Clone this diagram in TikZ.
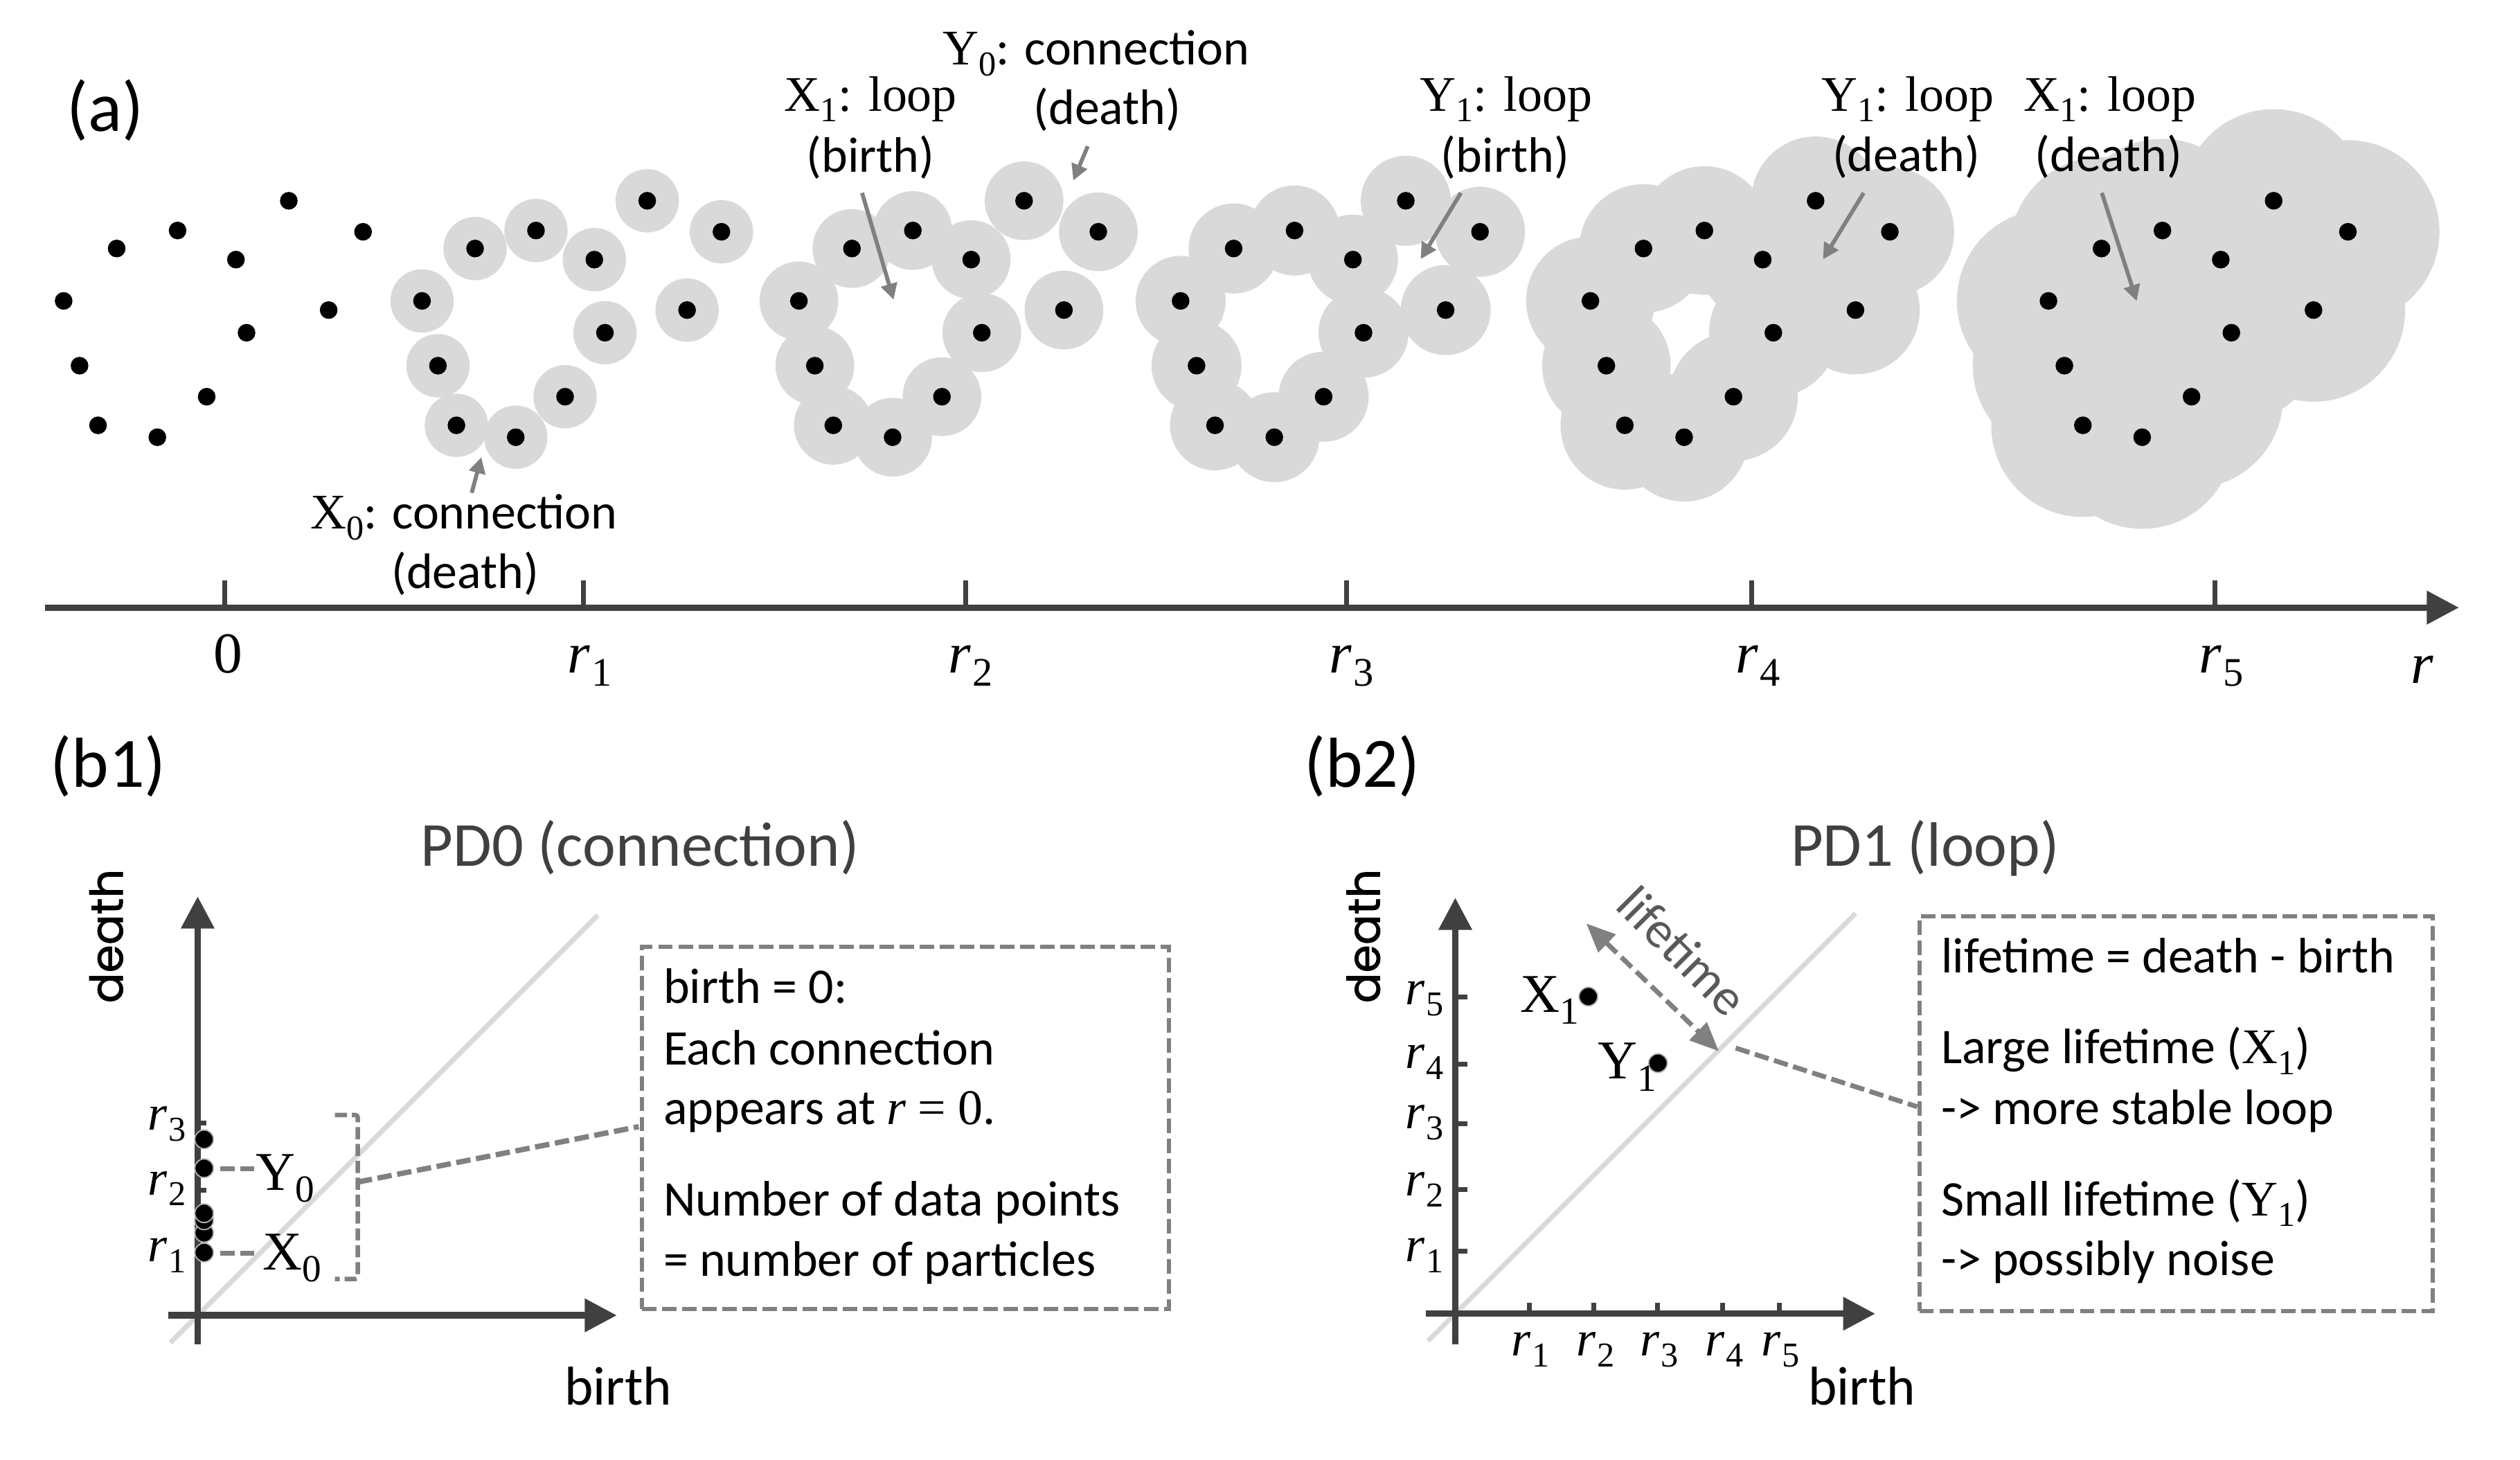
\documentclass[tikz,border=0pt]{standalone}
\usepackage{fontspec}
\setmainfont{Carlito}
\newfontfamily\deathfont{Poppins}[FakeBold=1.2]
\newfontfamily\mr{Liberation Serif}
\usetikzlibrary{arrows.meta}
\makeatletter
\newcommand\sbs[1]{\raisebox{-0.22em}{\fontsize{\fpeval{0.7*\f@size}}{1}\selectfont #1}}
\makeatother
\newcommand\XX[1]{{\mr X\sbs{#1}}}
\newcommand\YY[1]{{\mr Y\sbs{#1}}}
\newcommand\rr[1]{{\mr\itshape r\kern0.03em\sbs{\upshape #1}}}
\definecolor{axisgray}{HTML}{404040}
\definecolor{diskgray}{HTML}{D9D9D9}
\definecolor{annogray}{HTML}{808080}
\definecolor{ltgray}{HTML}{595959}
\def\pts{39.6/187.2,72.6/154.6,110.5/143.4,179.7/124.9,146.8/161.5,225.9/144.2,204.5/192.9,153.4/207.0,49.5/227.5,128.6/246.8,61.0/264.6,97.9/272.0}
\tikzset{
  axisline/.style={draw=axisgray, line width=4pt, -{Triangle[length=20pt,width=20pt]}},
  tickline/.style={draw=axisgray, line width=3pt},
  annoarrow/.style={draw=annogray, line width=2.5pt, -{Triangle[length=10pt,width=10pt]}},
  gdash/.style={draw=annogray, line width=3pt, dash pattern=on 9pt off 3.5pt},
  boxdash/.style={draw=annogray, line width=2.6pt, dash pattern=on 9pt off 3.5pt, inner sep=0pt},
  diag/.style={draw=diskgray, line width=3pt},
  ann/.style={font=\fontsize{31}{37}\selectfont, anchor=base, inner sep=0pt},
  boxtxt/.style={font=\fontsize{31}{37}\selectfont, anchor=base west, inner sep=0pt},
  mlab/.style={font=\fontsize{36}{40}\selectfont, anchor=base, inner sep=0pt},
  axlab/.style={font=\fontsize{31}{37}\selectfont, anchor=base, inner sep=0pt},
  plab/.style={font=\fontsize{34}{40}\selectfont, anchor=base, inner sep=0pt},
  panel/.style={font=\fontsize{44}{50}\selectfont, anchor=base, inner sep=0pt},
  ptitle/.style={font=\fontsize{39}{45}\selectfont, text=axisgray, anchor=base, inner sep=0pt},
  axname/.style={font=\fontsize{34}{40}\selectfont, anchor=base, inner sep=0pt},
  deathlab/.style={font=\deathfont\fontsize{28}{34}\selectfont, rotate=90, inner sep=0pt},
  pdot/.style={fill=black, draw=gray!60, line width=0.8pt},
}
\begin{document}
\begin{tikzpicture}[x=1pt,y=-1pt]
\useasboundingbox (0,0) rectangle (1568,908);

% ---------- panel (a): disks and points ----------
\foreach \s/\r in {223/19.7,457.5/24.5,695/28,950/40,1235/57}
  \foreach \px/\py in \pts
    \fill[diskgray] (\px+\s,\py) circle[radius=\r pt];
\foreach \s in {0,223,457.5,695,950,1235}
  \foreach \px/\py in \pts
    \fill[black] (\px+\s,\py) circle[radius=5.5pt];

\node[panel] (la) at (65.6,81.6) {(a)};

% annotations
\node[ann] (aA1) at (288.6,329) {\XX{0}: connection};
\node[ann] (aA2) at (289.5,366) {(death)};
\node[ann] (aB1) at (541.8,69) {\XX{1}{\mr: loop}};
\node[ann] (aB2) at (541.7,107) {(birth)};
\node[ann] (aC1) at (682,40.2) {\YY{0}: connection};
\node[ann] (aC2) at (689,77.3) {(death)};
\node[ann] (aD1) at (937.3,69) {\YY{1}{\mr: loop}};
\node[ann] (aD2) at (936.5,107) {(birth)};
\node[ann] (aE1) at (1187,69) {\YY{1}{\mr: loop}};
\node[ann] (aE2) at (1186,106.6) {(death)};
\node[ann] (aF1) at (1313,69) {\XX{1}{\mr: loop}};
\node[ann] (aF2) at (1312,106.6) {(death)};

\coordinate (pAs) at (293.5,306.6); \coordinate (pAe) at (299.5,284.4);
\coordinate (pBs) at (536.4,120);   \coordinate (pBe) at (556,186.5);
\coordinate (pCs) at (676.8,91);    \coordinate (pCe) at (667.8,112.3);
\coordinate (pDs) at (909,120);     \coordinate (pDe) at (884,161.2);
\coordinate (pEs) at (1159.6,120);  \coordinate (pEe) at (1134.3,161.4);
\coordinate (pFs) at (1307.8,120);  \coordinate (pFe) at (1329.5,187.3);
\foreach \k in {A,B,C,D,E,F} \draw[annoarrow] (p\k s) -- (p\k e);

% timeline
\coordinate (tlA) at (28,378);
\coordinate (tlB) at (1530,378);
\draw[axisline] (tlA) -- (tlB);
\foreach \x in {140,363,601,838,1090,1378} \draw[tickline] (\x,361) -- (\x,378);
\node[mlab] (t0) at (142,418.7) {\mr 0};
\node[mlab] (t1) at (367,418.7) {\rr{1}};
\node[mlab] (t2) at (604,418.7) {\rr{2}};
\node[mlab] (t3) at (841,418.7) {\rr{3}};
\node[mlab] (t4) at (1094,418.7) {\rr{4}};
\node[mlab] (t5) at (1382,418.7) {\rr{5}};
\node[mlab] (tr) at (1507,425) {\mr\itshape r};

% ---------- panel (b1) ----------
\node[panel] (lb1) at (67.3,489.6) {(b1)};
\node[ptitle] (pd0) at (398.2,539) {PD0 (connection)};
\node[deathlab] (db1) at (66.1,582.4) {death};
\node[axname] (bb1) at (384.7,874) {birth};

\draw[diag] (106,835.3) -- (372,569.3);
\draw[axisline] (123,836.2) -- (123,557.7);
\draw[axisline] (104.8,818.3) -- (383.8,818.3);
\foreach \y in {698.7,740.4,780} \draw[tickline] (123,\y) -- (128.5,\y);
\node[axlab] (b1r3) at (103.9,703.1) {\rr{3}};
\node[axlab] (b1r2) at (103.9,743.3) {\rr{2}};
\node[axlab] (b1r1) at (103.9,784.9) {\rr{1}};
\foreach \y in {779.2,767,759.2,754.8,726.8,708.8} \draw[pdot] (127,\y) circle[radius=5.8pt];

\node[plab] (y0) at (177.6,740.4) {\YY{0}};
\node[plab] (x0) at (181.8,790) {\XX{0}};
\coordinate (cy0a) at (137,727); \coordinate (cy0b) at (158,727);
\coordinate (cx0a) at (137,779.5); \coordinate (cx0b) at (158,779.5);
\draw[gdash] (cy0a) -- (cy0b);
\draw[gdash] (cx0a) -- (cx0b);
\coordinate (brA) at (208.4,693.7); \coordinate (brB) at (222.6,693.7);
\coordinate (brC) at (222.6,795.7); \coordinate (brD) at (208.4,795.7);
\coordinate (brM) at (222.6,735.4);
\draw[gdash, line width=2.8pt, dash pattern=on 7.5pt off 3pt, rounded corners=1.5pt] (brA) -- (brB) -- (brC) -- (brD);

\node[boxdash, anchor=north west, minimum width=328pt, minimum height=225.6pt] (box1) at (398.2,587.6) {};
\coordinate (box1in) at (397.4,700.9);
\draw[gdash, line width=3.3pt] (brM) -- (box1in);
\node[boxtxt] (t11) at (412.6,624) {birth = 0:};
\node[boxtxt] (t12) at (412.6,662.3) {Each connection};
\node[boxtxt] (t13) at (412.6,699.5) {appears at {\mr\itshape r} {\mr = 0}.};
\node[boxtxt] (t14) at (412.6,756.2) {Number of data points};
\node[boxtxt] (t15) at (412.6,794) {= number of particles};

% ---------- panel (b2) ----------
\node[panel] (lb2) at (847.5,489.6) {(b2)};
\node[ptitle] (pd1) at (1197.8,539) {PD1 (loop)};
\node[deathlab] (db2) at (848.3,582.4) {death};
\node[axname] (bb2) at (1158.5,874) {birth};

\draw[diag] (888.5,834.3) -- (1154.6,568.2);
\draw[axisline] (905.5,836.2) -- (905.5,558.5);
\draw[axisline] (887.1,817.3) -- (1166.8,817.3);
\foreach \y in {620.4,662,699,740.2,778.4} \draw[tickline] (905.5,\y) -- (913,\y);
\foreach \x in {951.4,991.8,1031.5,1071.8,1107} \draw[tickline] (\x,817.3) -- (\x,810.5);
\node[axlab] (b2r5) at (886.4,625.1) {\rr{5}};
\node[axlab] (b2r4) at (886.4,664.7) {\rr{4}};
\node[axlab] (b2r3) at (886.4,702.0) {\rr{3}};
\node[axlab] (b2r2) at (886.4,744.1) {\rr{2}};
\node[axlab] (b2r1) at (886.4,784.8) {\rr{1}};
\node[axlab] (b2c1) at (952.4,843.6) {\rr{1}};
\node[axlab] (b2c2) at (992.8,843.6) {\rr{2}};
\node[axlab] (b2c3) at (1032.5,843.6) {\rr{3}};
\node[axlab] (b2c4) at (1072.8,843.6) {\rr{4}};
\node[axlab] (b2c5) at (1108,843.6) {\rr{5}};

\draw[pdot] (988.3,620) circle[radius=5.8pt];
\draw[pdot] (1031.6,661.4) circle[radius=5.8pt];
\node[plab] (x1) at (964.3,629.6) {\XX{1}};
\node[plab] (y1) at (1012.3,671.3) {\YY{1}};

\coordinate (ltA) at (987,574.5);
\coordinate (ltB) at (1069.5,654);
\draw[draw=annogray, line width=3pt, dash pattern=on 9pt off 4pt,
  {Triangle[length=18pt,width=15pt]}-{Triangle[length=18pt,width=15pt]}] (ltA) -- (ltB);
\node[font=\fontsize{32}{38}\selectfont, text=ltgray, rotate=-45, inner sep=0pt] (lt) at (1047,591.6) {lifetime};

\node[boxdash, anchor=north west, minimum width=319.6pt, minimum height=245.7pt] (box2) at (1192.9,568.7) {};
\coordinate (ltc) at (1080,652);
\coordinate (box2in) at (1192.9,688.5);
\draw[gdash] (ltc) -- (box2in);
\node[boxtxt] (t21) at (1207.6,605) {lifetime = death - birth};
\node[boxtxt] (t22) at (1207.6,661.5) {Large lifetime (\XX{1})};
\node[boxtxt] (t23) at (1207.6,699.5) {-> more stable loop};
\node[boxtxt] (t24) at (1207.6,756.2) {Small lifetime (\YY{1})};
\node[boxtxt] (t25) at (1207.6,793.5) {-> possibly noise};
\end{tikzpicture}
\end{document}
